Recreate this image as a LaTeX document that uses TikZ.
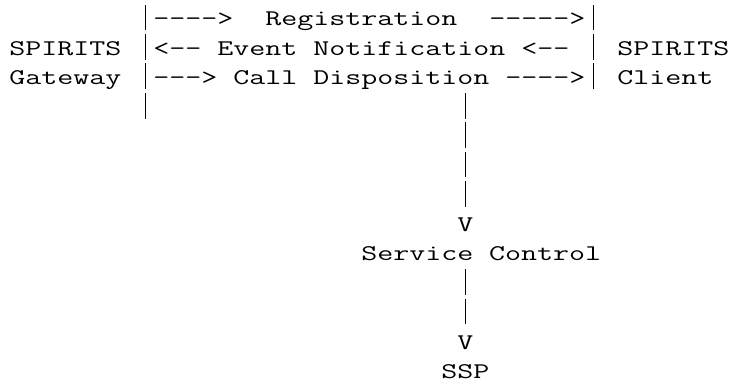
\documentclass[tikz,border=0pt]{standalone}
\usepackage{graphicx}

\newlength\artcharwd
\newcommand\ascii[1]{\scalebox{\artstretch}[1]{#1}}
\newcommand\vbar{\makebox[\artcharwd]{\rule[-3.6pt]{0.75pt}{19.35pt}}} % tall bar, one column wide

\begin{document}
% widen the typewriter letters to one column each
\settowidth\artcharwd{\ttfamily\fontsize{16.8}{18}\selectfont M}%
\pgfmathsetmacro\artstretch{12pt/\artcharwd}%
\begin{tikzpicture}[
  x=12pt, y=-22.05pt, % one column, one row
  % Node Styles
  art/.style={font=\ttfamily\fontsize{16.8}{18}\selectfont, inner sep=0pt, anchor=base west, text=black}
]
\fill[white] (-0.5625,-0.871) rectangle (45.125,12.156);
\useasboundingbox (-0.5625,-0.871) rectangle (45.125,12.156);

% Gateway and Client
\node[art] (GatewayA) at (0,1) {\ascii{SPIRITS}};
\node[art] (GatewayB) at (0,2) {\ascii{Gateway}};
\node[art] (ClientA) at (38,1) {\ascii{SPIRITS}};
\node[art] (ClientB) at (38,2) {\ascii{Client}};

% Messages
\node[art] (Registration) at (8,0) {\ascii{\vbar---->~ Registration~ ----->\vbar}};
\node[art] (Notification) at (8,1) {\ascii{\vbar<-- Event Notification <-- \vbar}};
\node[art] (Disposition) at (8,2) {\ascii{\vbar---> Call Disposition ---->\vbar}};

% Down to Service Control
\node[art] (GatewayEnd) at (8,3) {\ascii{\vbar}};
\foreach \r in {3,...,6}
  \node[art] (DownA\r) at (28,\r) {\ascii{\vbar}};
\node[art] (ArrowA) at (28,7) {\ascii{V}};
\node[art] (ServiceControl) at (22,8) {\ascii{Service Control}};

% Down to SSP
\foreach \r in {9,10}
  \node[art] (DownB\r) at (28,\r) {\ascii{\vbar}};
\node[art] (ArrowB) at (28,11) {\ascii{V}};
\node[art] (SSP) at (27,12) {\ascii{SSP}};

\end{tikzpicture}
\end{document}
